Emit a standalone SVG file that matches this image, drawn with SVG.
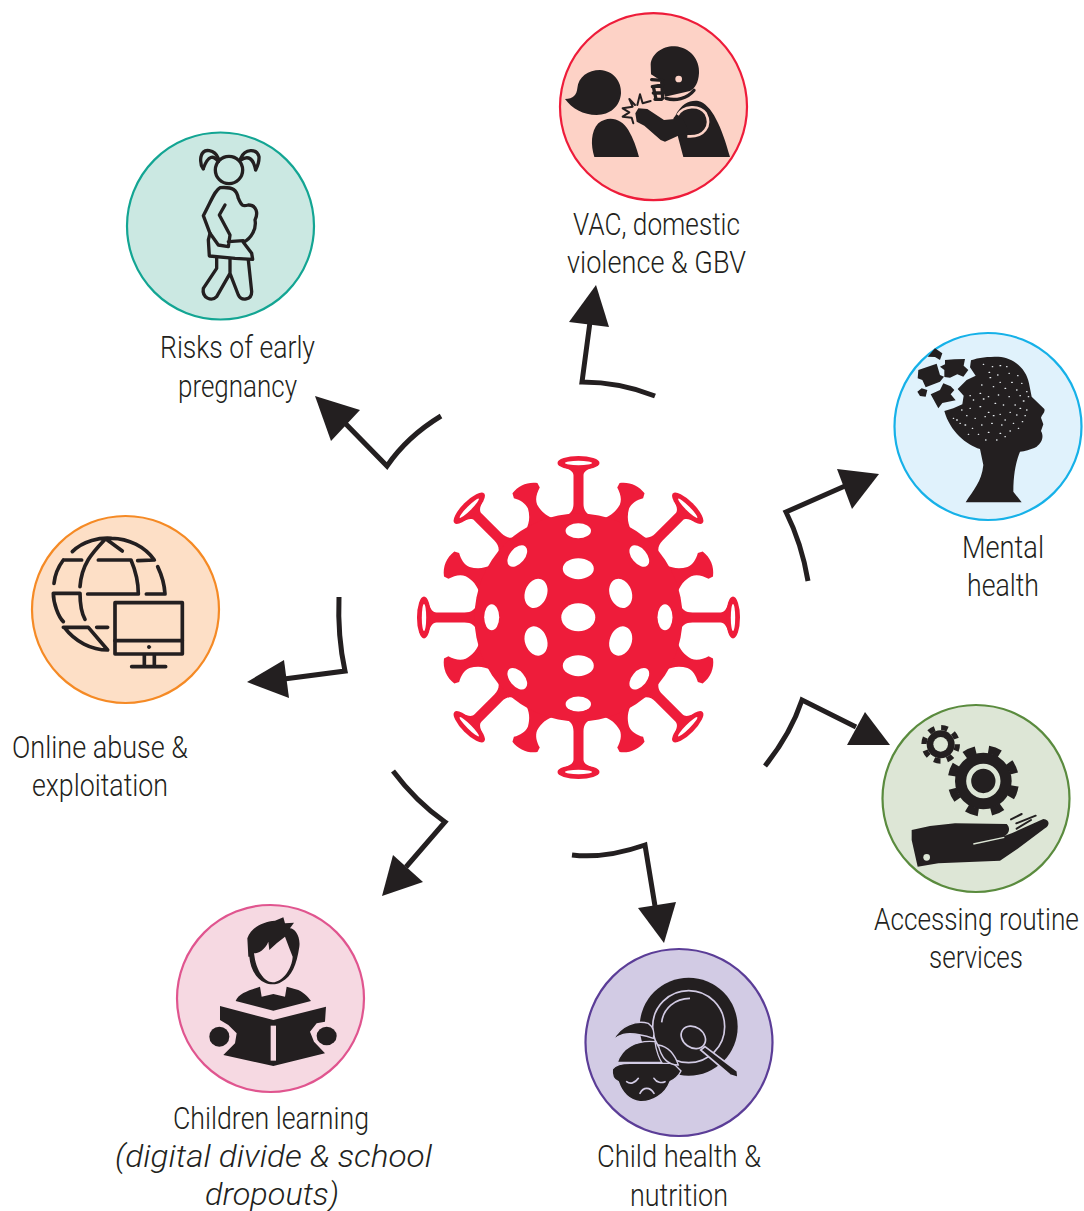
<svg xmlns="http://www.w3.org/2000/svg" xmlns:xlink="http://www.w3.org/1999/xlink" width="1084" height="1211" viewBox="0 0 1084 1211">
<style>
.bg{stroke-width:2.2}
.lbl{font-family:"Roboto","Liberation Sans",sans-serif;font-weight:300;font-size:31px;fill:#231f20;text-anchor:start}
.it{font-style:italic}
.k{fill:#231f20}
.o{fill:none;stroke:#231f20;stroke-linecap:round;stroke-linejoin:round}
.arc{fill:none;stroke:#231f20;stroke-width:5}
.hd{fill:#231f20}
.v{fill:#ee1c3a}
.h{fill:#fff}
</style>
<defs>
<g id="longSpike">
<path class="v" d="M-16,-100C-8,-103 -5,-107 -5,-114L-5,-142C-5,-146 -9,-148 -14,-150L14,-150C9,-148 5,-146 5,-142L5,-114C5,-107 8,-103 16,-100Z"/>
<ellipse class="v" cx="0" cy="-154.5" rx="21" ry="7"/>
<ellipse class="h" cx="0" cy="-154.5" rx="13.5" ry="2.2"/>
</g>
<path id="shortSpike" class="v" d="M-16,-100C-9,-106 -6,-112 -5,-120C-5,-126 -9,-131 -14,-135L-13.5,-140C-5,-145 5,-145 13.5,-140L14,-135C9,-131 5,-126 5,-120C6,-112 9,-106 16,-100Z"/>
</defs>
<rect width="1084" height="1211" fill="#fff"/>

<g id="connectors">
<g id="c-vac"><path class="arc" d="M655,396C630,386 606,382 582,382L590,322"/><polygon class="hd" points="596,285 569,322 609,327"/></g>
<g id="c-preg"><path class="arc" d="M441,416C418,430 400,447 387,466L338,416"/><polygon class="hd" points="315,396 360,410 331,441"/></g>
<g id="c-online"><path class="arc" d="M339,597C338,622 340,648 345,671L284,679"/><polygon class="hd" points="247,682 284,660 289,698"/></g>
<g id="c-learn"><path class="arc" d="M393,771C408,791 425,808 445,822L406,867"/><polygon class="hd" points="382,896 393,855 423,882"/></g>
<g id="c-child"><path class="arc" d="M572,855C597,858 622,853 645,845L655,906"/><polygon class="hd" points="664,943 638,908 676,902"/></g>
<g id="c-serv"><path class="arc" d="M765,766C781,746 794,724 802,700L856,727"/><polygon class="hd" points="890,745 865,712 847,745"/></g>
<g id="c-mental"><path class="arc" d="M808,581C804,557 797,534 786,512L845,486"/><polygon class="hd" points="879,474 837,469 852,509"/></g>
</g>

<g id="virus">
<g transform="translate(578.5,617.5)">
<use xlink:href="#longSpike" href="#longSpike"/>
<use href="#longSpike" xlink:href="#longSpike" transform="rotate(45)"/>
<use href="#longSpike" xlink:href="#longSpike" transform="rotate(90)"/>
<use href="#longSpike" xlink:href="#longSpike" transform="rotate(135)"/>
<use href="#longSpike" xlink:href="#longSpike" transform="rotate(180)"/>
<use href="#longSpike" xlink:href="#longSpike" transform="rotate(225)"/>
<use href="#longSpike" xlink:href="#longSpike" transform="rotate(270)"/>
<use href="#longSpike" xlink:href="#longSpike" transform="rotate(315)"/>
<use href="#shortSpike" xlink:href="#shortSpike" transform="rotate(22.5)"/>
<use href="#shortSpike" xlink:href="#shortSpike" transform="rotate(67.5)"/>
<use href="#shortSpike" xlink:href="#shortSpike" transform="rotate(112.5)"/>
<use href="#shortSpike" xlink:href="#shortSpike" transform="rotate(157.5)"/>
<use href="#shortSpike" xlink:href="#shortSpike" transform="rotate(202.5)"/>
<use href="#shortSpike" xlink:href="#shortSpike" transform="rotate(247.5)"/>
<use href="#shortSpike" xlink:href="#shortSpike" transform="rotate(292.5)"/>
<use href="#shortSpike" xlink:href="#shortSpike" transform="rotate(337.5)"/>
<circle class="v" cx="0" cy="0" r="104"/>
</g>
<ellipse class="h" cx="578.3" cy="530.7" rx="12.7" ry="7.5"/>
<ellipse class="h" cx="578.3" cy="568.7" rx="15.5" ry="10.5"/>
<ellipse class="h" cx="578.3" cy="617.3" rx="17" ry="14"/>
<ellipse class="h" cx="578.3" cy="665.7" rx="15.5" ry="10.5"/>
<ellipse class="h" cx="578.3" cy="704" rx="12.7" ry="7.5"/>
<ellipse class="h" cx="491.7" cy="617.3" rx="7.5" ry="13"/>
<ellipse class="h" cx="665" cy="617.3" rx="7.5" ry="13"/>
<ellipse class="h" cx="536" cy="593.3" rx="11" ry="15" transform="rotate(20 536 593.3)"/>
<ellipse class="h" cx="620.7" cy="593.3" rx="11" ry="15" transform="rotate(-20 620.7 593.3)"/>
<ellipse class="h" cx="536" cy="641" rx="11" ry="15" transform="rotate(-20 536 641)"/>
<ellipse class="h" cx="620.7" cy="641" rx="11" ry="15" transform="rotate(20 620.7 641)"/>
<ellipse class="h" cx="517.3" cy="556" rx="7.5" ry="12.5" transform="rotate(40 517.3 556)"/>
<ellipse class="h" cx="639.3" cy="556" rx="7.5" ry="12.5" transform="rotate(-40 639.3 556)"/>
<ellipse class="h" cx="517.3" cy="678.7" rx="7.5" ry="12.5" transform="rotate(-40 517.3 678.7)"/>
<ellipse class="h" cx="639.3" cy="678.7" rx="7.5" ry="12.5" transform="rotate(40 639.3 678.7)"/>
</g>

<g id="node-vac">
<circle class="bg" cx="653.5" cy="106.7" r="93.5" fill="#fdd2c6" stroke="#ee1c3a"/>
<g transform="translate(550,5) scale(.33333)">
<path class="k" d="M45,282C70,282 80,270 82,250C85,215 115,195 150,195C190,197 215,230 213,265C210,305 180,330 140,330C100,330 65,310 45,282Z"/>
<path class="k" d="M133,456C122,420 122,380 145,355C175,330 215,340 235,375C250,400 260,430 267,456Z"/>
<path class="k" d="M302,178C305,145 340,122 375,124C420,127 450,165 447,205C445,235 435,250 420,258L345,275L330,225L303,208Z"/>
<circle cx="386" cy="222" r="10" fill="#fdd2c6"/>
<path class="o" stroke-width="10" d="M348,280C375,288 412,282 432,256M305,224L338,226M307,245L338,240M310,264L335,264M315,283L335,283M310,245L318,282M335,226L338,280"/>
<path class="k" d="M376,332C395,295 420,285 445,288C485,298 515,365 540,456L400,456L385,400L370,340Z"/>
<path fill="none" stroke="#fdd2c6" stroke-width="8" d="M383,330C400,302 447,298 467,325C487,362 462,398 412,394"/>
<path class="k" d="M256,325L265,310L292,312L342,345L398,340L416,378L345,410L332,405L283,362L260,350Z"/>
<path class="o" stroke-width="6" d="M262,300L270,268L278,295L302,288M255,300L238,282L248,305L218,310L238,322L218,335L245,338L250,355"/>
</g>
<text class="lbl" x="573" y="235" textLength="167" lengthAdjust="spacingAndGlyphs">VAC, domestic</text>
<text class="lbl" x="567" y="273" textLength="179" lengthAdjust="spacingAndGlyphs">violence &amp; GBV</text>
</g>

<g id="node-pregnancy">
<circle class="bg" cx="220.5" cy="226" r="93.5" fill="#cbe8e2" stroke="#13a593"/>
<g transform="translate(120,125) scale(.33333)" class="o" stroke-width="10">
<circle cx="327" cy="135" r="41"/>
<path d="M295,100C285,75 250,65 243,95C240,110 245,125 250,132M295,110C280,90 265,90 250,130M362,100C375,70 410,70 417,95C418,110 412,125 407,135M362,105C385,90 400,100 407,135"/>
<path d="M300,188C285,195 275,225 250,272L270,325L265,345L268,393L345,400L398,403L395,385L370,352C395,340 410,310 405,285C415,265 410,240 385,240C365,245 365,240 355,220C350,195 340,185 300,188Z"/>
<path d="M315,240L298,270L330,330L325,365L295,360L270,325M325,350L370,347"/>
<path d="M290,400L290,430L250,490C245,520 275,530 290,515L330,445L355,510C365,530 395,525 395,500L385,405M330,400L330,445"/>
</g>
<text class="lbl" x="160" y="358" textLength="155" lengthAdjust="spacingAndGlyphs">Risks of early</text>
<text class="lbl" x="178" y="397" textLength="119" lengthAdjust="spacingAndGlyphs">pregnancy</text>
</g>

<g id="node-mental">
<circle class="bg" cx="988" cy="426.5" r="93.5" fill="#e0f2fc" stroke="#16b1e8"/>
<g transform="translate(885,325) scale(.33333)">
<path class="k" d="M178,258L205,250L232,238L236,212L218,192L245,165L272,152L255,127L258,106C280,97 310,95 340,95C390,98 425,135 432,175L440,215L478,252C482,262 470,270 468,278L475,298L468,318C478,335 470,355 455,365C435,375 420,378 405,380C395,405 385,440 385,500L410,532L242,532C265,495 290,470 295,420L285,372C245,360 195,320 178,258Z"/>
<path class="k" d="M150,70L172,85L165,105L150,96L128,95ZM100,135L155,116L165,150L177,155L165,170L122,187L112,165L98,160ZM180,105L208,103L240,102L236,122L250,135L235,155L217,148L195,158L178,156L178,135L165,125L180,118ZM97,200L110,190L127,195L122,215L105,213ZM137,208L165,195L175,175L197,184L208,195L197,208L212,226L172,234L160,250Z"/>
<path fill="none" stroke="#e8edf0" stroke-width="4" stroke-linecap="round" d="M295,118h1M322,125h1M345,122h2M365,125h1M312,142h2M338,150h1M372,145h1M398,152h1M315,158h2M345,172h1M380,172h2M410,175h1M290,180h1M325,185h1M360,190h2M395,195h1M425,200h1M255,212h1M285,205h2M310,215h1M340,210h1M372,215h1M405,212h1M430,215h1M265,225h1M295,222h2M330,235h2M355,240h1M390,240h1M415,228h2M230,255h1M255,250h1M285,245h2M310,262h2M345,268h1M375,262h1M405,250h2M425,255h1M215,285h2M245,272h1M270,280h1M300,275h1M325,272h2M360,285h1M395,270h1M420,272h1M240,300h2M262,310h1M290,300h1M320,295h2M350,300h1M385,295h1M412,290h1M225,295h1M250,328h1M280,328h1M310,322h2M345,325h2M375,318h1M400,310h1M302,345h1M335,345h1M360,335h1M205,280h1"/>
</g>
<text class="lbl" x="962" y="558" textLength="82" lengthAdjust="spacingAndGlyphs">Mental</text>
<text class="lbl" x="967" y="596" textLength="72" lengthAdjust="spacingAndGlyphs">health</text>
</g>

<g id="node-services">
<circle class="bg" cx="976" cy="798.5" r="93.5" fill="#dde6d6" stroke="#5a8b3e"/>
<g transform="translate(875,700) scale(.33333)">
<circle class="k" cx="197" cy="133" r="42"/>
<circle cx="197" cy="133" r="50" fill="none" stroke="#231f20" stroke-width="16" stroke-dasharray="19.6 19.67"/>
<circle cx="197" cy="133" r="22" fill="#dde6d6"/>
<circle class="k" cx="325" cy="243" r="85"/>
<circle cx="325" cy="243" r="95" fill="none" stroke="#231f20" stroke-width="24" stroke-dasharray="36 38.6" transform="rotate(9 325 243)"/>
<circle cx="325" cy="243" r="44" fill="none" stroke="#dde6d6" stroke-width="15"/>
<path class="k" d="M110,390L165,378L240,370L395,372C408,385 402,402 388,408L410,400L505,357C525,360 525,375 510,385L430,445L375,482L190,490L128,500L110,420Z"/>
<path fill="none" stroke="#dde6d6" stroke-width="4" d="M295,432L388,412"/>
<circle cx="155" cy="472" r="10" fill="#dde6d6"/>
<path class="o" stroke-width="6" d="M408,358L440,342M424,370L482,347M425,386L468,360"/>
</g>
<text class="lbl" transform="translate(874,930) scale(.9,1)" x="0" y="0" textLength="227.7" lengthAdjust="spacingAndGlyphs">Accessing routine</text>
<text class="lbl" x="929" y="968" textLength="94" lengthAdjust="spacingAndGlyphs">services</text>
</g>

<g id="node-child">
<circle class="bg" cx="679" cy="1042.5" r="93.5" fill="#d2cbe4" stroke="#5b3d97"/>
<g transform="translate(580,945) scale(.33333)">
<circle class="k" cx="326" cy="245" r="147"/>
<circle cx="326" cy="245" r="108" fill="none" stroke="#d2cbe4" stroke-width="5"/>
<path fill="none" stroke="#d2cbe4" stroke-width="5" d="M245,232C250,190 285,160 330,160"/>
<path class="k" stroke="#d2cbe4" stroke-width="5" d="M375,305L472,378L474,398L450,390L362,315Z"/>
<ellipse class="k" cx="340" cy="277" rx="39" ry="31" transform="rotate(35 340 277)" stroke="#d2cbe4" stroke-width="5"/>
<path class="k" stroke="#d2cbe4" stroke-width="4" d="M97,372C105,362 125,355 150,355L280,355L303,378C295,395 280,405 270,410C255,450 215,472 180,470C145,465 125,440 115,410C100,405 95,390 97,372Z"/>
<path class="k" stroke="#d2cbe4" stroke-width="4" d="M112,352C125,310 165,285 225,290C228,320 240,345 245,352Z"/>
<path class="k" stroke="#d2cbe4" stroke-width="4" d="M235,300C265,305 285,330 295,360C270,360 245,345 235,300Z"/>
<path class="k" stroke="#d2cbe4" stroke-width="4" d="M100,285C120,240 170,225 205,235C220,245 225,265 220,280C190,270 160,262 130,268C115,272 105,280 100,285Z"/>
<path fill="none" stroke="#d2cbe4" stroke-width="5" stroke-linecap="round" d="M140,410C150,418 165,415 175,400M222,400C230,413 245,415 255,410M180,445C190,425 210,425 222,445"/>
</g>
<text class="lbl" x="597" y="1167" textLength="164" lengthAdjust="spacingAndGlyphs">Child health &amp;</text>
<text class="lbl" x="630" y="1206" textLength="98" lengthAdjust="spacingAndGlyphs">nutrition</text>
</g>

<g id="node-learning">
<circle class="bg" cx="270.5" cy="998.5" r="93.5" fill="#f6d9e2" stroke="#e0558f"/>
<g transform="translate(170,900) scale(.33333)">
<path class="k" d="M238,170C240,200 255,235 285,248C300,255 320,255 335,245C365,230 380,195 388,140C392,110 375,85 360,85L372,68L345,70L340,52L315,62C280,65 245,80 232,115L235,170Z"/>
<path fill="#f6d9e2" d="M252,160C265,160 285,150 295,125L298,150L320,130L345,110L358,145L368,170C366,205 340,245 308,247C285,247 258,215 252,160Z"/>
<path class="k" d="M197,303C205,280 240,270 270,260L275,290L310,282L345,290L350,260L385,270C405,280 418,295 423,303L310,332Z"/>
<path class="k" d="M150,318L310,360L468,320L465,365L440,370L420,395L432,425L465,460L310,498L160,465L195,430L200,400L175,375L150,360Z"/>
<rect x="302" y="377" width="16" height="105" fill="#f6d9e2"/>
<ellipse class="k" cx="148" cy="410" rx="30" ry="30"/>
<ellipse class="k" cx="470" cy="408" rx="30" ry="28"/>
</g>
<text class="lbl" x="173" y="1129" textLength="196" lengthAdjust="spacingAndGlyphs">Children learning</text>
<text class="lbl it" x="115" y="1167" textLength="317" lengthAdjust="spacingAndGlyphs">(digital divide &amp; school</text>
<text class="lbl it" x="205" y="1205" textLength="134" lengthAdjust="spacingAndGlyphs">dropouts)</text>
</g>

<g id="node-online">
<circle class="bg" cx="125.5" cy="609.5" r="93.5" fill="#fddfc6" stroke="#f58a25"/>
<g transform="translate(25,510) scale(.33333)" class="o" stroke-width="11">
<path d="M142,125C175,92 225,82 260,85C310,85 360,110 388,150L338,152M240,85L292,123M240,88C205,125 170,160 165,230M115,150L170,150M115,150C100,170 90,190 87,220M220,150L318,150C335,190 340,220 340,252L188,252M398,170C410,195 418,220 420,252L364,252M85,250L165,250C165,280 170,310 180,328M85,250C85,280 100,320 115,335M115,352L190,352L248,420C200,420 150,395 118,352M215,352L248,352"/>
<rect x="270" y="278" width="202" height="154"/>
<path d="M270,392H472M358,435V470M388,435V470M320,470H422"/>
<circle class="k" cx="372" cy="411" r="5" stroke-width="2"/>
</g>
<text class="lbl" x="12" y="758" textLength="176" lengthAdjust="spacingAndGlyphs">Online abuse &amp;</text>
<text class="lbl" x="32" y="796" textLength="136" lengthAdjust="spacingAndGlyphs">exploitation</text>
</g>
</svg>
